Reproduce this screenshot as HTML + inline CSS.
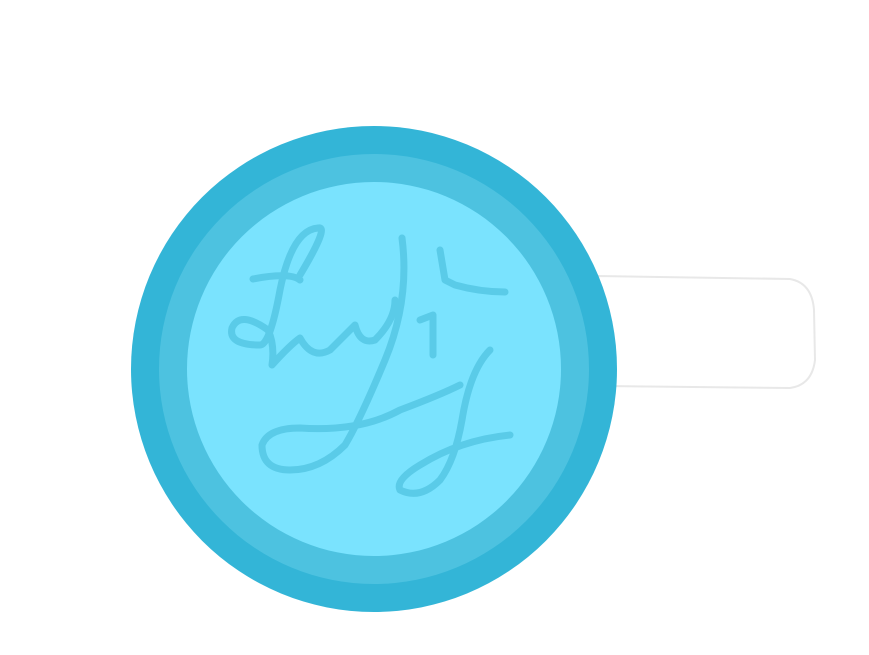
<!DOCTYPE html>
<html><head><meta charset="utf-8"><style>
html,body{margin:0;padding:0;background:#fff;width:869px;height:655px;overflow:hidden}
</style></head><body>
<svg width="869" height="655" viewBox="0 0 869 655">
  <path d="M598 276 L790 279 Q812 283 814 310 L815 360 Q812 385 790 388 L605 386 Z" fill="#ffffff" stroke="#e8e8e8" stroke-width="2"/>
  <circle cx="374" cy="369" r="243" fill="#33b5d7"/>
  <circle cx="374" cy="369" r="215" fill="#4dc2e0"/>
  <circle cx="374" cy="369" r="187" fill="#7ae3fe"/>
  <g fill="none" stroke="#5acbe8" stroke-width="7" stroke-linecap="round" stroke-linejoin="round">
    <path d="M253 279 Q290 272 300 280"/>
    <path d="M300 275 Q330 225 318 228 Q292 230 280 290 Q270 345 260 345 Q228 345 232 328 Q240 310 268 330 Q275 345 272 365 Q290 345 300 338 Q312 360 330 350 Q345 335 355 325 Q360 345 375 340 Q395 320 395 300"/>
    <path d="M402 238 Q410 300 385 360 Q360 420 345 445 Q320 470 290 470 Q262 470 262 445 Q268 428 300 428 Q360 432 400 410 Q440 395 460 385"/>
    <path d="M440 250 L445 280 L455 285 Q480 292 505 292"/>
    <path d="M420 320 L433 315 L433 355"/>
    <path d="M490 350 Q470 370 462 420 Q455 460 440 480 Q420 500 400 490 Q395 480 420 465 Q460 440 510 435"/>
  </g>
</svg>
</body></html>
